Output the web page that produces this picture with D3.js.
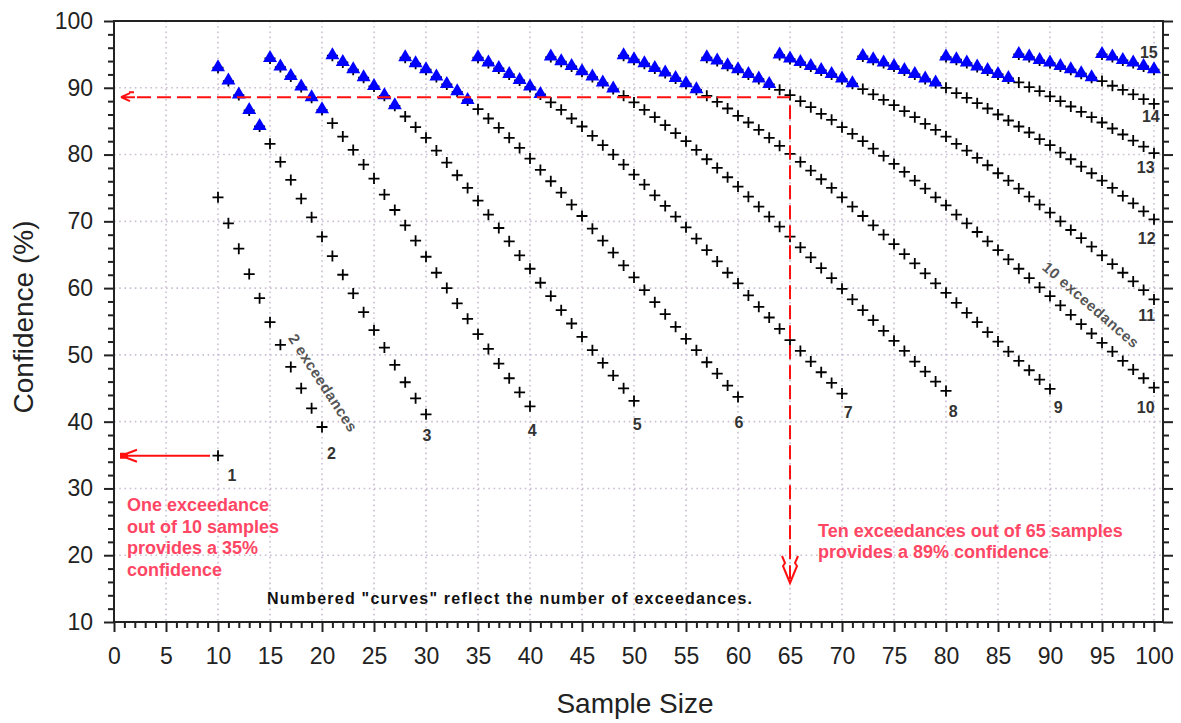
<!DOCTYPE html>
<html>
<head>
<meta charset="utf-8">
<script src="https://cdnjs.cloudflare.com/ajax/libs/d3/7.8.5/d3.min.js"></script>
<style>
  body { margin: 0; background: #fff; }
  text { font-family: "Liberation Sans", Arial, sans-serif; }
</style>
</head>
<body>
<script>
// first sample size of each curve (curve k = k exceedances)
var startN = [10, 10, 10, 15, 21, 28, 35, 42, 49, 57, 64, 72, 80, 87, 95];

// confidence (%), one value per sample size
var exc1 = [34.9];
var exc2 = [73.6, 69.7, 65.9, 62.1, 58.5, 54.9, 51.5, 48.2, 45.0, 42.0, 39.2];
var exc3 = [93.0, 91.0, 88.9, 86.6, 84.2, 81.6, 78.9, 76.2, 73.4, 70.6, 67.7, 64.8, 62.0, 59.2, 56.4, 53.7, 51.1, 48.5, 45.9, 43.5, 41.1];
var exc4 = [94.4, 93.1, 91.7, 90.1, 88.5, 86.7, 84.7, 82.7, 80.7, 78.5, 76.4, 74.0, 71.7, 69.4, 67.1, 64.7, 62.3, 60.0, 57.7, 55.4, 53.1, 50.9, 48.7, 46.5, 44.4, 42.3];
var exc5 = [94.8, 93.8, 92.7, 91.5, 90.2, 88.8, 87.3, 85.7, 84.1, 82.5, 80.6, 78.8, 76.9, 75.0, 73.1, 71.0, 69.0, 67.0, 64.9, 62.9, 60.8, 58.8, 56.7, 54.7, 52.7, 50.7, 48.8, 46.9, 45.0, 43.1];
var exc6 = [94.5, 93.6, 92.7, 91.6, 90.5, 89.4, 88.1, 86.8, 85.4, 84.0, 82.5, 81.0, 79.4, 77.7, 76.0, 74.3, 72.5, 70.8, 68.9, 67.1, 65.3, 63.4, 61.6, 59.7, 57.9, 56.1, 54.2, 52.4, 50.7, 48.9, 47.2, 45.4, 43.7];
var exc7 = [94.5, 93.7, 92.9, 92.0, 91.1, 90.1, 89.0, 87.8, 86.7, 85.4, 84.2, 82.8, 81.4, 80.0, 78.5, 77.0, 75.5, 73.9, 72.3, 70.7, 69.1, 67.4, 65.7, 64.0, 62.3, 60.7, 58.9, 57.2, 55.6, 53.9, 52.2, 50.6, 49.0, 47.4, 45.8, 44.2];
var exc8 = [94.6, 93.9, 93.2, 92.4, 91.6, 90.7, 89.8, 88.8, 87.8, 86.7, 85.6, 84.4, 83.2, 82.0, 80.7, 79.3, 78.0, 76.6, 75.2, 73.7, 72.2, 70.7, 69.2, 67.7, 66.1, 64.6, 63.0, 61.5, 59.9, 58.3, 56.7, 55.2, 53.6, 52.1, 50.6, 49.0, 47.5, 46.0, 44.6];
var exc9 = [94.8, 94.2, 93.6, 92.9, 92.2, 91.4, 90.6, 89.7, 88.8, 87.9, 86.9, 85.8, 84.8, 83.7, 82.5, 81.3, 80.1, 78.9, 77.6, 76.3, 75.0, 73.6, 72.2, 70.8, 69.4, 68.0, 66.6, 65.1, 63.7, 62.2, 60.7, 59.3, 57.8, 56.3, 54.9, 53.4, 52.0, 50.5, 49.1, 47.7, 46.3, 44.9];
var exc10 = [94.5, 94.0, 93.3, 92.7, 92.0, 91.3, 90.5, 89.7, 88.9, 88.0, 87.1, 86.1, 85.2, 84.1, 83.1, 82.0, 80.9, 79.8, 78.6, 77.4, 76.1, 74.9, 73.6, 72.4, 71.0, 69.7, 68.4, 67.0, 65.7, 64.3, 62.9, 61.5, 60.1, 58.8, 57.4, 56.0, 54.6, 53.2, 51.8, 50.5, 49.1, 47.8, 46.5, 45.1];
var exc11 = [94.9, 94.3, 93.8, 93.2, 92.6, 92.0, 91.3, 90.6, 89.8, 89.0, 88.2, 87.4, 86.5, 85.6, 84.6, 83.7, 82.7, 81.6, 80.6, 79.5, 78.4, 77.2, 76.1, 74.9, 73.7, 72.5, 71.3, 70.0, 68.7, 67.5, 66.2, 64.9, 63.6, 62.3, 61.0, 59.7, 58.3];
var exc12 = [94.7, 94.2, 93.7, 93.2, 92.6, 92.0, 91.3, 90.7, 90.0, 89.2, 88.5, 87.7, 86.9, 86.0, 85.1, 84.2, 83.3, 82.3, 81.4, 80.3, 79.3, 78.2, 77.2, 76.1, 75.0, 73.8, 72.7, 71.5, 70.3];
var exc13 = [94.6, 94.2, 93.7, 93.1, 92.6, 92.0, 91.4, 90.8, 90.1, 89.5, 88.7, 88.0, 87.2, 86.4, 85.6, 84.8, 83.9, 83.0, 82.1, 81.2, 80.2];
var exc14 = [95.0, 94.6, 94.1, 93.7, 93.2, 92.7, 92.1, 91.5, 91.0, 90.3, 89.7, 89.0, 88.3, 87.6];
var exc15 = [95.0, 94.6, 94.1, 93.7, 93.2, 92.7];

var curves = [exc1, exc2, exc3, exc4, exc5, exc6, exc7, exc8, exc9, exc10, exc11, exc12, exc13, exc14, exc15];
var curveNames = ["1", "2", "3", "4", "5", "6", "7", "8", "9", "10", "11", "12", "13", "14", "15"];

var xTicks = d3.range(0, 101, 5);
var yTicks = d3.range(10, 101, 10);

var w = 1181, h = 723;
var svg = d3.select("body").append("svg").attr("width", w).attr("height", h);

var x = d3.scaleLinear().domain([0, 100]).range([114, 1154]);
var y = d3.scaleLinear().domain([10, 100]).range([622, 21]);
var rightX = 1163;

var gridColor = "#cbbdd3";
var red = "#ff1010";
var noteRed = "#ff4664";

// dotted grid
svg.append("g").selectAll("line")
  .data(xTicks.filter(function(d) { return d > 0; }))
  .enter().append("line")
  .attr("x1", function(d) { return x(d); })
  .attr("x2", function(d) { return x(d); })
  .attr("y1", y(100)).attr("y2", y(10))
  .attr("stroke", gridColor).attr("stroke-width", 1.6)
  .attr("stroke-dasharray", "1.6,3.6");

svg.append("g").selectAll("line")
  .data(yTicks.filter(function(d) { return d > 10 && d < 100; }))
  .enter().append("line")
  .attr("x1", x(0)).attr("x2", rightX)
  .attr("y1", function(d) { return y(d); })
  .attr("y2", function(d) { return y(d); })
  .attr("stroke", gridColor).attr("stroke-width", 1.6)
  .attr("stroke-dasharray", "1.6,3.6");

// axes
function styleAxis(g) {
  g.select(".domain").remove();
  g.selectAll("line").attr("stroke", "#222").attr("stroke-width", 2);
  g.selectAll("text")
    .attr("font-family", "'Liberation Sans', Arial, sans-serif")
    .attr("font-size", 23).attr("fill", "#222");
}

svg.append("g").attr("transform", "translate(0," + y(10) + ")")
  .call(d3.axisBottom(x).tickValues(d3.range(0, 101).filter(function(d) { return d % 5; }))
    .tickSize(6).tickFormat(""))
  .call(styleAxis);
svg.append("g").attr("transform", "translate(0," + y(10) + ")")
  .call(d3.axisBottom(x).tickValues(xTicks).tickSize(10).tickPadding(16).tickFormat(d3.format("d")))
  .call(styleAxis);

var yMinor = d3.range(10, 101, 2).filter(function(d) { return d % 10; });
svg.append("g").attr("transform", "translate(" + x(0) + ",0)")
  .call(d3.axisLeft(y).tickValues(yMinor).tickSize(6).tickFormat(""))
  .call(styleAxis);
svg.append("g").attr("transform", "translate(" + x(0) + ",0)")
  .call(d3.axisLeft(y).tickValues(yTicks).tickSize(10).tickPadding(11).tickFormat(d3.format("d")))
  .call(styleAxis);
svg.append("g").attr("transform", "translate(" + rightX + ",0)")
  .call(d3.axisRight(y).tickValues(yMinor).tickSize(6).tickFormat(""))
  .call(styleAxis);
svg.append("g").attr("transform", "translate(" + rightX + ",0)")
  .call(d3.axisRight(y).tickValues(yTicks).tickSize(10).tickFormat(""))
  .call(styleAxis);

// frame
svg.append("path")
  .attr("d", "M" + x(0) + "," + y(10) + "V" + y(100) + "H" + rightX + "V" + y(10) + "Z")
  .attr("fill", "none").attr("stroke", "#222").attr("stroke-width", 2);

// axis titles
svg.append("text").text("Sample Size")
  .attr("x", 635).attr("y", 713)
  .attr("text-anchor", "middle").attr("font-size", 28).attr("fill", "#222");
svg.append("text").text("Confidence (%)")
  .attr("transform", "translate(33,317) rotate(-90)")
  .attr("text-anchor", "middle").attr("font-size", 28).attr("fill", "#222");

// points
var points = [];
curves.forEach(function(vals, k) {
  vals.forEach(function(v, i) {
    var n = startN[k] + i;
    var top = k + 1 < startN.length ? n < startN[k + 1] : true;
    points.push({ k: k + 1, n: n, v: v, top: top });
  });
});

svg.append("g").selectAll("path")
  .data(points)
  .enter().append("path")
  .attr("transform", function(d) { return "translate(" + x(d.n) + "," + y(d.v) + ")"; })
  .attr("d", "M-5.5,0H5.5M0,-5.5V5.5")
  .attr("stroke", "#000").attr("stroke-width", 1.8).attr("fill", "none");

svg.append("g").selectAll("path")
  .data(points.filter(function(d) { return d.top; }))
  .enter().append("path")
  .attr("transform", function(d) { return "translate(" + x(d.n) + "," + y(d.v) + ")"; })
  .attr("d", "M0,-8.5L7,3.5L-7,3.5Z")
  .attr("fill", "#0000ff");

// curve numbers, placed by hand in data units
var labelAt = [[11.35, 32.0], [20.9, 35.3], [30.1, 38.0], [40.2, 38.7], [50.3, 39.6],
  [60.1, 39.9], [70.6, 41.4], [80.7, 41.6], [90.8, 42.2], [99.2, 42.2],
  [99.3, 56.0], [99.3, 67.5], [99.2, 78.1], [99.7, 85.7], [99.5, 95.3]];

svg.append("g").selectAll("text")
  .data(curveNames)
  .enter().append("text")
  .text(function(d) { return d; })
  .attr("x", function(d, i) { return x(labelAt[i][0]); })
  .attr("y", function(d, i) { return y(labelAt[i][1]); })
  .attr("dy", "0.36em")
  .attr("text-anchor", "middle")
  .attr("font-weight", "bold").attr("font-size", 16).attr("fill", "#333");

svg.append("text").text("2 exceedances")
  .attr("transform", "translate(323,383) rotate(57)")
  .attr("text-anchor", "middle").attr("dy", "0.35em")
  .attr("font-weight", "bold").attr("font-size", 15).attr("fill", "#555")
  .attr("letter-spacing", 0.6);
svg.append("text").text("10 exceedances")
  .attr("transform", "translate(1091,305) rotate(41)")
  .attr("text-anchor", "middle").attr("dy", "0.35em")
  .attr("font-weight", "bold").attr("font-size", 15).attr("fill", "#555")
  .attr("letter-spacing", 0.6);

// red guides
var guideV = 88.6;
svg.append("line")
  .attr("x1", 137).attr("x2", x(65))
  .attr("y1", y(guideV)).attr("y2", y(guideV))
  .attr("stroke", red).attr("stroke-width", 2).attr("stroke-dasharray", "14,6");
svg.append("line")
  .attr("x1", x(65)).attr("x2", x(65))
  .attr("y1", y(guideV) + 8).attr("y2", 580)
  .attr("stroke", red).attr("stroke-width", 2).attr("stroke-dasharray", "14,6");
svg.append("path")
  .attr("d", "M121," + y(guideV) + "h14M121," + y(guideV) + "l9,-4m-9,4l9,4M129," + (y(guideV) - 5) + "h5")
  .attr("stroke", red).attr("stroke-width", 2).attr("fill", "none");
svg.append("path")
  .attr("d", "M" + (x(65) - 8) + ",556l3,7l-2,3l7,17l7,-17l-2,-3l3,-7")
  .attr("stroke", red).attr("stroke-width", 2).attr("fill", "none");

svg.append("line")
  .attr("x1", 121).attr("x2", x(10) - 8)
  .attr("y1", y(34.9)).attr("y2", y(34.9))
  .attr("stroke", red).attr("stroke-width", 2);
svg.append("path")
  .attr("d", "M121," + y(34.9) + "l16,-6m-16,6l16,6M121," + (y(34.9) - 2) + "h6v4h-6z")
  .attr("stroke", red).attr("stroke-width", 2).attr("fill", red);

// notes
var leftNote = ["One exceedance", "out of 10 samples", "provides a 35%", "confidence"];
svg.append("g").selectAll("text")
  .data(leftNote).enter().append("text")
  .text(function(d) { return d; })
  .attr("x", 127).attr("y", function(d, i) { return 511 + i * 21.7; })
  .attr("font-weight", "bold").attr("font-size", 18).attr("fill", noteRed);

var rightNote = ["Ten exceedances out of 65 samples", "provides a 89% confidence"];
svg.append("g").selectAll("text")
  .data(rightNote).enter().append("text")
  .text(function(d) { return d; })
  .attr("x", 818).attr("y", function(d, i) { return 537 + i * 21; })
  .attr("font-weight", "bold").attr("font-size", 18).attr("fill", noteRed);

svg.append("text").text("Numbered \"curves\" reflect the number of exceedances.")
  .attr("x", 267).attr("y", 604)
  .attr("textLength", 485).attr("lengthAdjust", "spacing")
  .attr("font-weight", "bold").attr("font-size", 16).attr("fill", "#111");
</script>
</body>
</html>
